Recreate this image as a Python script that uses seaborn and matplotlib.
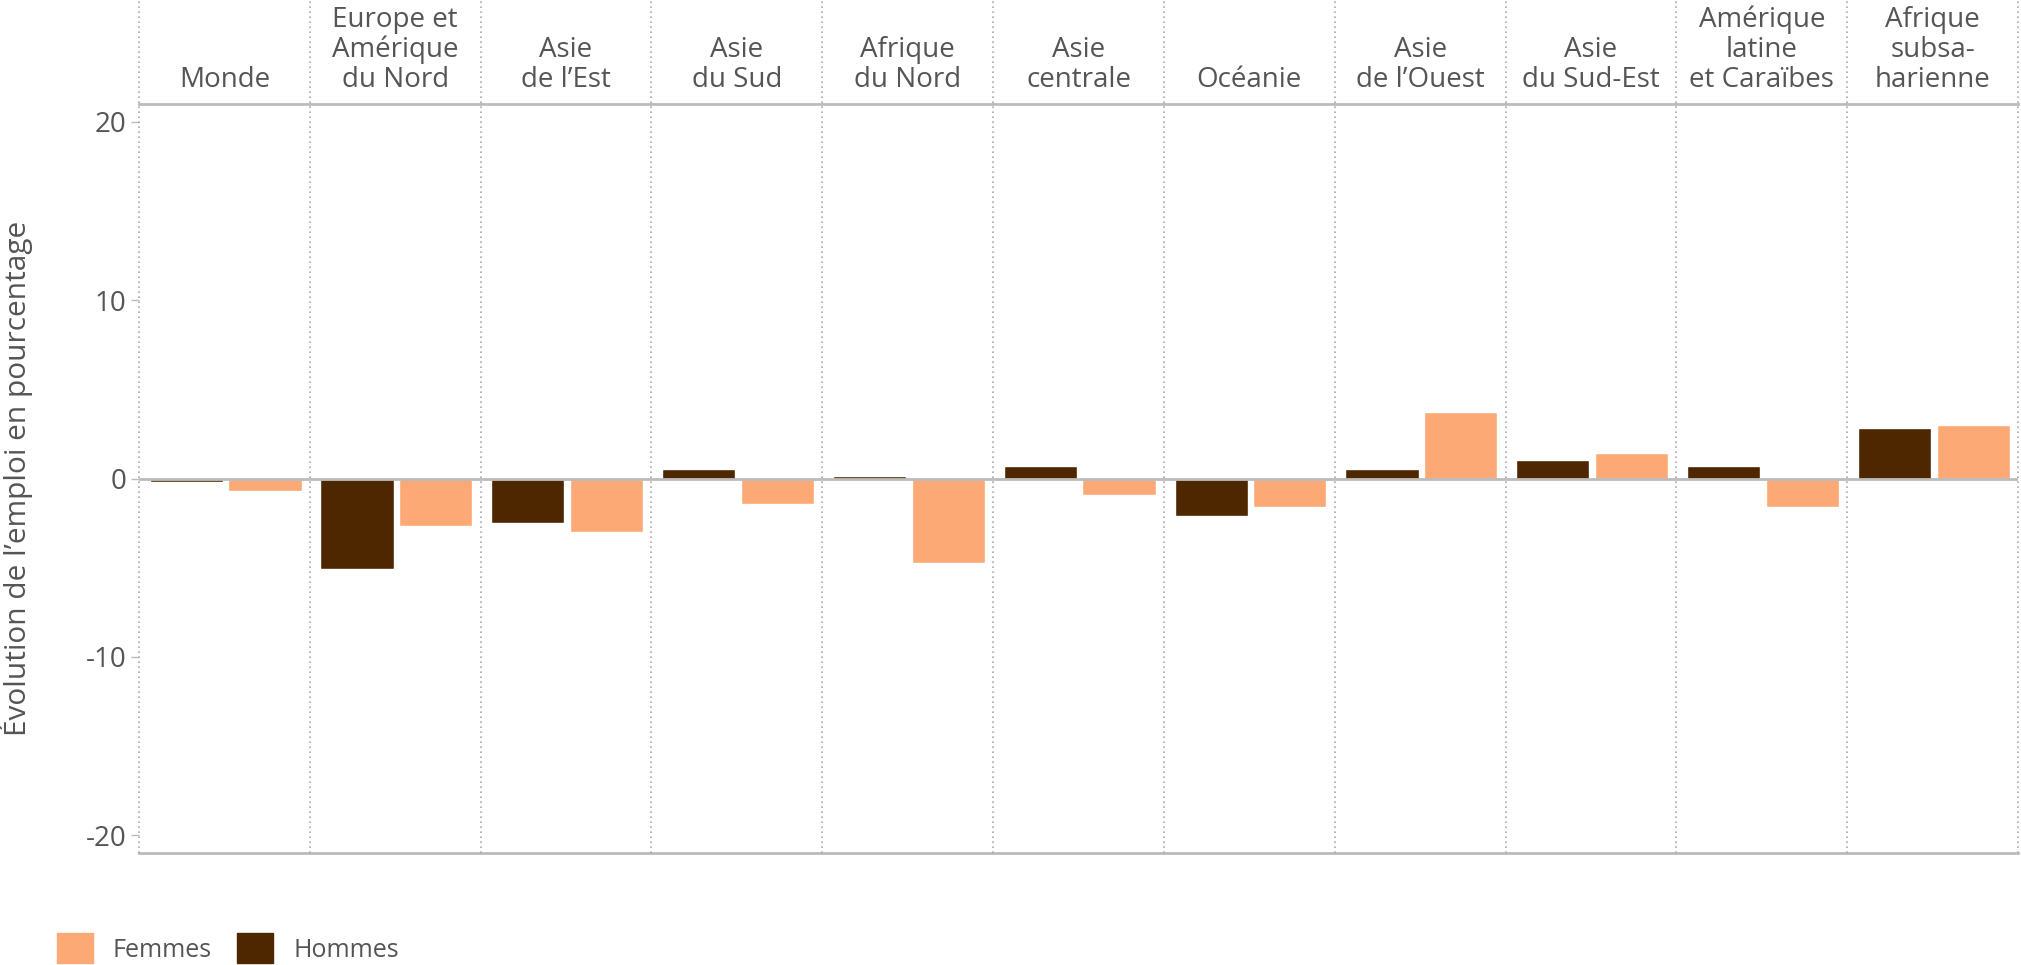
import numpy as np
import pandas as pd
import matplotlib.pyplot as plt
import seaborn as sns
from matplotlib.patches import Patch
from matplotlib.lines import Line2D

regions = ['Monde', 'Europe et\nAmérique\ndu Nord', 'Asie\nde l’Est', 'Asie\ndu Sud',
           'Afrique\ndu Nord', 'Asie\ncentrale', 'Océanie', 'Asie\nde l’Ouest',
           'Asie\ndu Sud-Est', 'Amérique\nlatine\net Caraïbes', 'Afrique\nsubsa-\nharienne']
hommes = [-0.17, -5.1, -2.48, 0.54, 0.16, 0.7, -2.12, 0.53, 1.06, 0.7, 2.84]
femmes = [-0.7, -2.64, -3.02, -1.42, -4.76, -0.9, -1.6, 3.72, 1.42, -1.6, 3.0]
sexes = ['Hommes', 'Femmes']
yticks = [-20, -10, 0, 10, 20]

colors = {'Hommes': '#4e2600', 'Femmes': '#fda975'}
grey_txt = '#555555'
grey_line = '#bbbbbb'

rows = []
for r, h, f in zip(regions, hommes, femmes):
    rows.append({'Region': r, 'Sexe': 'Hommes', 'Valeur': h})
    rows.append({'Region': r, 'Sexe': 'Femmes', 'Valeur': f})
df = pd.DataFrame(rows)

sns.set_theme(style='white')
plt.rcParams['font.family'] = ['Open Sans', 'DejaVu Sans']

left, right, bottom, top = 139 / 2021, 2018 / 2021, 1 - 853 / 965, 1 - 104 / 965
fig = plt.figure(figsize=(20.21, 9.65), dpi=100)
axes = fig.subplots(1, len(regions), sharey=True,
                    gridspec_kw=dict(left=left, right=right, bottom=bottom, top=top, wspace=0))

for i, (ax, reg) in enumerate(zip(axes, regions)):
    sub = df[df['Region'] == reg]
    sns.barplot(data=sub, x='Sexe', y='Valeur', hue='Sexe', order=sexes, hue_order=sexes,
                palette=colors, width=0.93, ax=ax, legend=False, saturation=1)
    ax.set_xlim(-0.6, 1.57)
    ax.set_ylim(-21, 21)
    ax.set_xlabel('')
    ax.set_ylabel('')
    ax.set_xticks([])
    ax.axhline(0, color=grey_line, lw=2, zorder=3)
    for s in ['left', 'right']:
        ax.spines[s].set_visible(False)
    for s in ['top', 'bottom']:
        ax.spines[s].set_color(grey_line)
        ax.spines[s].set_linewidth(2)
    ax.annotate(reg, xy=(0.5, 1), xycoords='axes fraction', xytext=(0, 7),
                textcoords='offset points', ha='center', va='bottom',
                fontsize=20, color=grey_txt, linespacing=1.1)
    if i == 0:
        ax.set_yticks(yticks)
        ax.set_yticklabels([str(t) for t in yticks])
        ax.tick_params(axis='y', left=True, length=6, width=1, color=grey_line,
                       labelsize=20, labelcolor=grey_txt, pad=3)
    else:
        ax.tick_params(axis='y', left=False)

fig.text(16 / 2021, 0.5 * (top + bottom), 'Évolution de l’emploi en pourcentage',
         rotation=90, ha='center', va='center', fontsize=21.5, color=grey_txt)

for i in range(len(regions) + 1):
    x = left + i * (right - left) / len(regions)
    fig.add_artist(Line2D([x, x], [bottom, 1], transform=fig.transFigure,
                          color='#aaaaaa', lw=1.2, ls=(0, (1, 2))))

handles = [Patch(color=colors['Femmes'], label='Femmes'),
           Patch(color=colors['Hommes'], label='Hommes')]
fig.legend(handles=handles, loc='lower left', bbox_to_anchor=(0.028, 0.002), ncol=2,
           frameon=False, fontsize=18, handlelength=1.45, handleheight=1.45,
           handletextpad=0.8, columnspacing=1.0, borderpad=0, borderaxespad=0,
           labelcolor=grey_txt)

fig.savefig('out.png', dpi=100)
